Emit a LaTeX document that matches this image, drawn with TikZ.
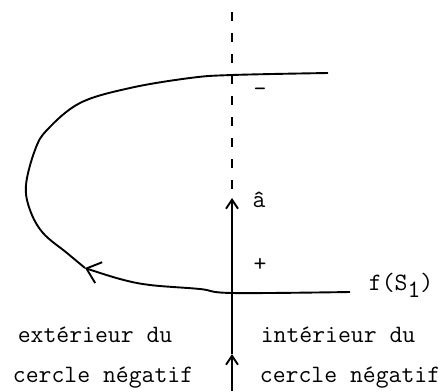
\documentclass[tikz,border=0pt]{standalone}
\usepackage{fontspec}
\usetikzlibrary{arrows.meta,positioning}
\tikzset{
  lbl/.style={font=\ttfamily\fontsize{25}{25}\selectfont, inner sep=0pt},
  axisbarb/.style={-{Straight Barb[length=9pt,width=12pt]}},
  curvebarb/.style={-{Straight Barb[length=13pt,width=22pt]}},
}
\begin{document}
\begin{tikzpicture}[x=1pt,y=-1pt,line width=1.9pt]
  \useasboundingbox (0,0) rectangle (447,391);
  \coordinate (axtop) at (232,12);
  \coordinate (ahat) at (232,198);
  \coordinate (axmid) at (232,354);
  \coordinate (axbot) at (232,391);
  \coordinate (fend) at (350,292);
  \coordinate (turn) at (85,268);
  \coordinate (tend) at (328,73);
  \draw[line width=1.7pt, dash pattern=on 9pt off 12pt] (axtop) -- (ahat);
  \draw[axisbarb] (axbot) -- (axmid);
  \draw[axisbarb] (axmid) -- (ahat);
  \draw[curvebarb] plot[smooth, tension=0.6] coordinates {(fend) (232,293) (200,289) (150,285) (120,279) (turn)};
  \draw plot[smooth, tension=0.6] coordinates {(turn) (67,253) (43,233) (30,210) (26,185) (35,150) (47,130) (80,103) (130,88) (190,78) (232,75) (tend)};
  \node[lbl] (minus) at (260,92) {-};
  \node[lbl] (ahatlbl) at (259,200) {â};
  \node[lbl] (plus) at (260,265) {+};
  \node[lbl, anchor=base west] (fS) at (368,290) {f(S\raisebox{-7pt}{1})};
  \node[lbl, anchor=base] (extA) at (95,342) {extérieur du};
  \node[lbl, anchor=base] (extB) at (103,382) {cercle négatif};
  \node[lbl, anchor=base] (intA) at (338,342) {intérieur du};
  \node[lbl, anchor=base] (intB) at (350,382) {cercle négatif};
\end{tikzpicture}
\end{document}
